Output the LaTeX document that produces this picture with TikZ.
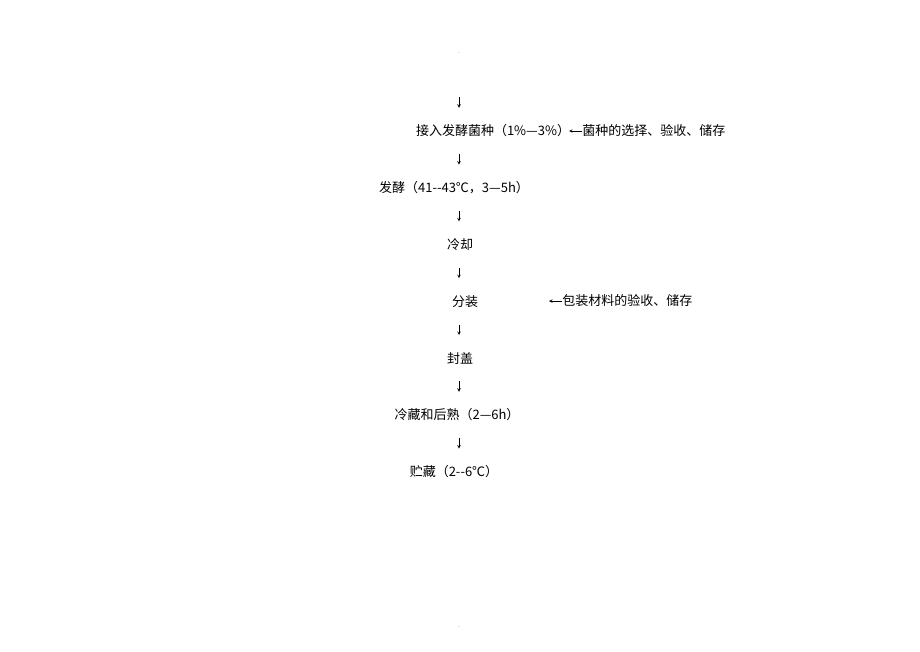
\documentclass[tikz,border=0pt]{standalone}
\usepackage{fontspec}
\newfontfamily\cjk{Noto Sans CJK SC}
\usetikzlibrary{arrows}

\begin{document}
\begin{tikzpicture}[> = stealth, % arrow head style
                x = 1pt, y = -1pt, % page units, y running down
                node distance = 56.8pt, % distance between steps
                semithick % line style
            ]

            \tikzstyle{every node}=[inner sep = 0pt,
            font = \cjk\fontsize{13}{15}\selectfont]
            \tikzstyle{stepnode}=[minimum height = 45.8pt]

            \useasboundingbox (0,0) rectangle (920,651);
            \coordinate (axis) at (459,0); \coordinate (top) at (459,97);

            % main steps
            \node (1) [stepnode] at (493,131) {接入发酵菌种（1\%—3\%）};
            \node (2) [stepnode, below of=1, xshift=-39pt] {发酵（41--43℃，3—5h）};
            \node (3) [stepnode, below of=2, xshift=6pt] {冷却};
            \node (4) [stepnode, below of=3, xshift=5pt] {分装};
            \node (5) [stepnode, below of=4, xshift=-5pt] {封盖};
            \node (6) [stepnode, below of=5, xshift=-3pt] {冷藏和后熟（2—6h）};
            \node (7) [stepnode, below of=6, xshift=-3pt] {贮藏（2--6℃）};

            % side inputs
            \node (s1) [anchor=west] at (582,131) {菌种的选择、验收、储存};
            \node (s4) [anchor=west] at (562,301) {包装材料的验收、储存};
            \coordinate (e1) at (569,131); \coordinate (e4) at (549,301);

            % page marks
            \node (m1) at (459,53) {\tiny .}; \node (m2) at (459,627) {\tiny .};

            \path[->] (top) edge (1.north -| axis); \path[->] (1.south -| axis)
            edge (2.north -| axis); \path[->] (2.south -| axis) edge (3.north -| axis);
            \path[->] (3.south -| axis) edge (4.north -| axis); \path[->] (4.south
            -| axis) edge (5.north -| axis); \path[->] (5.south -| axis) edge
            (6.north -| axis); \path[->] (6.south -| axis) edge (7.north -| axis);
            \path[->] (s1) edge (e1); \path[->] (s4) edge (e4);
        \end{tikzpicture}
\end{document}
